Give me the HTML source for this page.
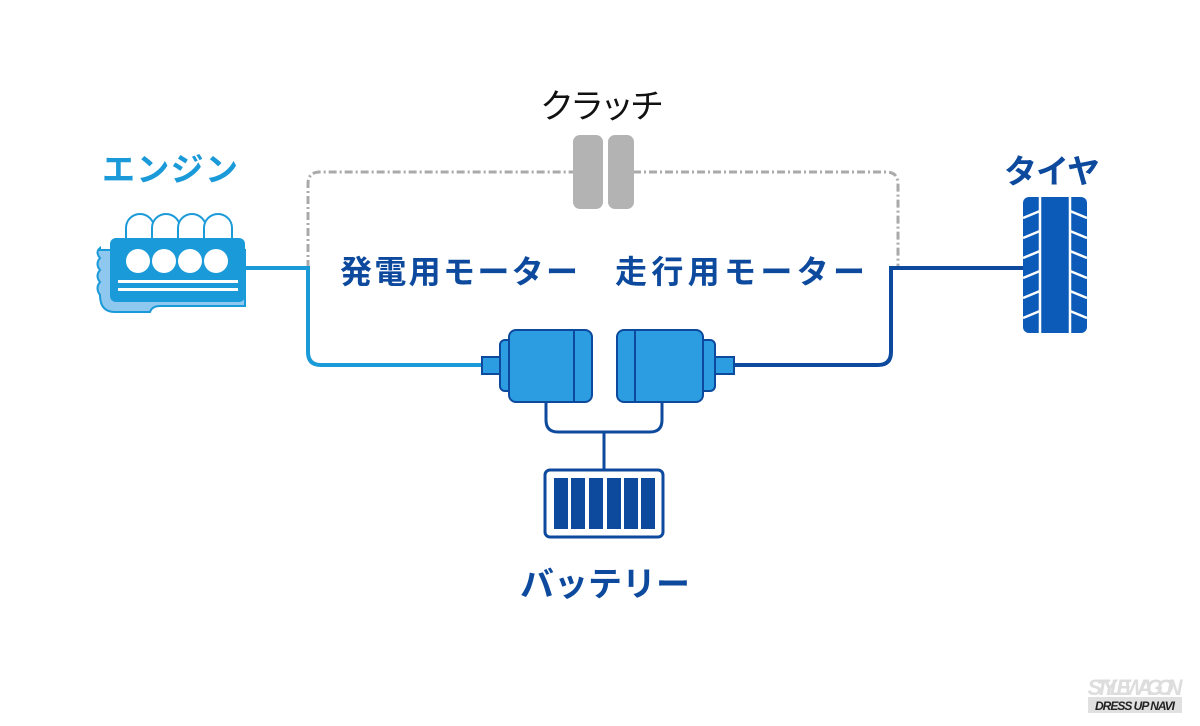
<!DOCTYPE html>
<html><head><meta charset="utf-8"><style>
html,body{margin:0;padding:0;background:#fff;}
svg{display:block}
text{font-family:"Liberation Sans","Noto Sans CJK JP",sans-serif;}
</style></head><body>
<svg width="1200" height="726" viewBox="0 0 1200 726" xmlns="http://www.w3.org/2000/svg">
<rect width="1200" height="726" fill="#fff"/>
<!-- labels -->
<text x="602" y="118" font-size="34" text-anchor="middle" fill="#111" textLength="124">クラッチ</text>
<text x="170" y="181" font-size="33" text-anchor="middle" fill="#1a9ad8" font-weight="bold" textLength="136">エンジン</text>
<text x="1052" y="183" font-size="33" text-anchor="middle" fill="#0d4a9e" font-weight="bold" textLength="96">タイヤ</text>
<text x="459" y="283" font-size="32" text-anchor="middle" fill="#0d4a9e" font-weight="bold" textLength="238">発電用モーター</text>
<text x="740" y="283" font-size="32" text-anchor="middle" fill="#0d4a9e" font-weight="bold" textLength="250">走行用モーター</text>
<text x="605" y="596" font-size="34" text-anchor="middle" fill="#0d4a9e" font-weight="bold" textLength="170">バッテリー</text>

<!-- dashed clutch path -->
<path d="M308 268 V184 Q308 172 320 172 H575 M633 172 H886 Q898 172 898 184 V268" fill="none" stroke="#aaa" stroke-width="3" stroke-dasharray="8 3 2 3"/>
<!-- clutch -->
<rect x="573" y="135" width="30" height="74" rx="7" fill="#b3b3b3"/>
<rect x="608" y="135" width="26" height="74" rx="7" fill="#b3b3b3"/>

<!-- engine line -->
<path d="M240 268 H308 V352 Q308 365 321 365 H485" fill="none" stroke="#1a9ad8" stroke-width="4"/>
<!-- right line -->
<path d="M735 365 H878 Q891 365 891 352 V268 H1025" fill="none" stroke="#0d4a9e" stroke-width="4"/>

<!-- engine -->
<path d="M100 248 Q95 252 100 258 Q95 264 100 270 Q95 276 100 282 Q95 288 100 295 Q100 312 115 312 H150 Q152 306 160 306 H245 V250 H100 Z" fill="#8fc8ee" stroke="#1a9ad8" stroke-width="2"/>
<g fill="#fff" stroke="#1a9ad8" stroke-width="2">
<path d="M126 240 V228 A14 14 0 0 1 154 228 V240Z"/>
<path d="M152 240 V228 A14 14 0 0 1 180 228 V240Z"/>
<path d="M178 240 V228 A14 14 0 0 1 206 228 V240Z"/>
<path d="M204 240 V228 A14 14 0 0 1 232 228 V240Z"/>
</g>
<rect x="110" y="238" width="135" height="64" rx="6" fill="#1a9ad8"/>
<g fill="#fff"><circle cx="138" cy="261" r="12"/><circle cx="164" cy="261" r="12"/><circle cx="190" cy="261" r="12"/><circle cx="216" cy="261" r="12"/>
<rect x="118" y="280" width="120" height="3"/><rect x="118" y="288" width="120" height="3"/></g>

<!-- left motor -->
<rect x="482" y="357" width="20" height="17" fill="#2b9de0" stroke="#0d4a9e" stroke-width="2"/>
<rect x="500" y="340" width="20" height="51" rx="5" fill="#2b9de0" stroke="#0d4a9e" stroke-width="2"/>
<rect x="509" y="330" width="83" height="72" rx="7" fill="#2b9de0" stroke="#0d4a9e" stroke-width="2"/>
<line x1="574" y1="331" x2="574" y2="401" stroke="#0d4a9e" stroke-width="2"/>
<!-- right motor -->
<rect x="712" y="357" width="22" height="17" fill="#2b9de0" stroke="#0d4a9e" stroke-width="2"/>
<rect x="695" y="340" width="20" height="51" rx="5" fill="#2b9de0" stroke="#0d4a9e" stroke-width="2"/>
<rect x="617" y="330" width="86" height="72" rx="7" fill="#2b9de0" stroke="#0d4a9e" stroke-width="2"/>
<line x1="635" y1="331" x2="635" y2="401" stroke="#0d4a9e" stroke-width="2"/>

<!-- battery connectors -->
<path d="M546 402 V420 Q546 432 558 432 H650 Q662 432 662 420 V402 M604 432 V470" fill="none" stroke="#0d4a9e" stroke-width="3"/>
<rect x="545" y="470" width="118" height="67" rx="5" fill="#fff" stroke="#0d4a9e" stroke-width="3"/>
<g fill="#0d4a9e"><rect x="554" y="478" width="14" height="51"/><rect x="571" y="478" width="14" height="51"/><rect x="589" y="478" width="14" height="51"/><rect x="607" y="478" width="14" height="51"/><rect x="624" y="478" width="14" height="51"/><rect x="641" y="478" width="14" height="51"/></g>

<!-- tire -->
<rect x="1023" y="197" width="64" height="136" rx="6" fill="#0d5bb8"/>
<g stroke="#fff" stroke-width="2.5">
<line x1="1040" y1="197" x2="1040" y2="333"/><line x1="1070" y1="197" x2="1070" y2="333"/>
<line x1="1023" y1="218" x2="1040" y2="211"/><line x1="1023" y1="238" x2="1040" y2="231"/><line x1="1023" y1="258" x2="1040" y2="251"/><line x1="1023" y1="278" x2="1040" y2="271"/><line x1="1023" y1="298" x2="1040" y2="291"/><line x1="1023" y1="318" x2="1040" y2="311"/>
<line x1="1070" y1="211" x2="1087" y2="218"/><line x1="1070" y1="231" x2="1087" y2="238"/><line x1="1070" y1="251" x2="1087" y2="258"/><line x1="1070" y1="271" x2="1087" y2="278"/><line x1="1070" y1="291" x2="1087" y2="298"/><line x1="1070" y1="311" x2="1087" y2="318"/>
</g>

<!-- watermark -->
<text x="1135" y="695" font-size="22" font-style="italic" font-weight="bold" fill="#ddd" text-anchor="middle" textLength="95">STYLEWAGON</text>
<rect x="1088" y="697" width="94" height="16" fill="#e0e0e0"/>
<text x="1135" y="710" font-size="12" font-style="italic" font-weight="bold" fill="#222" text-anchor="middle" textLength="80">DRESS UP NAVI</text>
</svg>
</body></html>
